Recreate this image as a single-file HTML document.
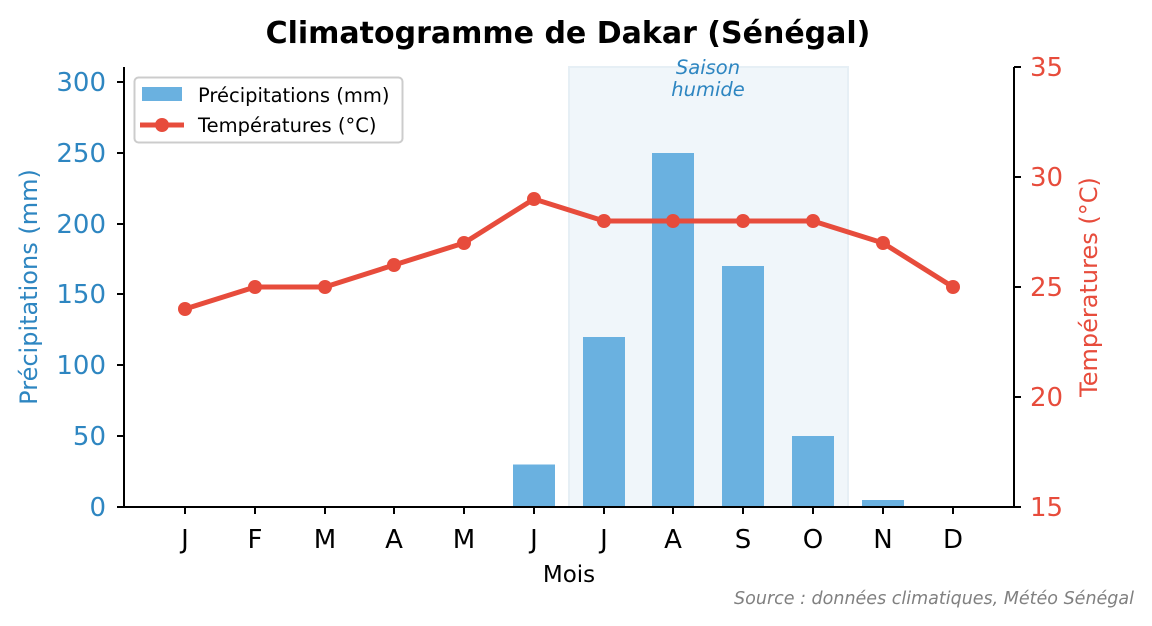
<!DOCTYPE html>
<html><head><meta charset="utf-8"><style>
html,body{margin:0;padding:0;background:#fff;}
svg{display:block;font-family:"DejaVu Sans","Liberation Sans",sans-serif;}
</style></head><body>
<svg width="1152" height="626" viewBox="0 0 1152 626" xmlns="http://www.w3.org/2000/svg">
<rect width="1152" height="626" fill="#fff"/>
<text x="568" y="43" text-anchor="middle" font-size="30" font-weight="bold" fill="#000">Climatogramme de Dakar (Sénégal)</text>
<!-- shaded wet season -->
<rect x="569" y="67" width="279" height="440" fill="#f0f6fa" stroke="#e6eff5" stroke-width="2"/>
<text x="708" y="74" text-anchor="middle" font-size="19.5" font-style="italic" fill="#2e86c1">Saison</text>
<text x="708" y="96" text-anchor="middle" font-size="19.5" font-style="italic" fill="#2e86c1">humide</text>
<!-- bars -->
<g fill="#6ab1e0">
<rect x="513" y="464.5" width="42" height="42.5"/>
<rect x="583" y="337" width="42" height="170"/>
<rect x="652" y="153" width="42" height="354"/>
<rect x="722" y="266" width="42" height="241"/>
<rect x="792" y="436" width="42" height="71"/>
<rect x="862" y="500" width="42" height="7"/>
</g>
<!-- temps -->
<polyline fill="none" stroke="#e74c3c" stroke-width="5" stroke-linejoin="round" points="185,309 255,287 325,287 394,265 464,243 534,199 604,221 673,221 743,221 813,221 883,243 953,287"/>
<g fill="#e74c3c">
<circle cx="185" cy="309" r="7"/><circle cx="255" cy="287" r="7"/><circle cx="325" cy="287" r="7"/><circle cx="394" cy="265" r="7"/><circle cx="464" cy="243" r="7"/><circle cx="534" cy="199" r="7"/><circle cx="604" cy="221" r="7"/><circle cx="673" cy="221" r="7"/><circle cx="743" cy="221" r="7"/><circle cx="813" cy="221" r="7"/><circle cx="883" cy="243" r="7"/><circle cx="953" cy="287" r="7"/>
</g>
<!-- axes -->
<g stroke="#000" stroke-width="2">
<line x1="124" y1="67" x2="124" y2="508"/>
<line x1="123" y1="507" x2="1015" y2="507"/>
<line x1="1014" y1="67" x2="1014" y2="508"/>
<line x1="117" y1="507" x2="124" y2="507"/><line x1="117" y1="436" x2="124" y2="436"/><line x1="117" y1="365" x2="124" y2="365"/><line x1="117" y1="294" x2="124" y2="294"/><line x1="117" y1="224" x2="124" y2="224"/><line x1="117" y1="153" x2="124" y2="153"/><line x1="117" y1="82" x2="124" y2="82"/>
<line x1="1014" y1="507" x2="1021" y2="507"/><line x1="1014" y1="397" x2="1021" y2="397"/><line x1="1014" y1="287" x2="1021" y2="287"/><line x1="1014" y1="177" x2="1021" y2="177"/><line x1="1014" y1="67" x2="1021" y2="67"/>
<line x1="185" y1="507" x2="185" y2="514"/><line x1="255" y1="507" x2="255" y2="514"/><line x1="325" y1="507" x2="325" y2="514"/><line x1="394" y1="507" x2="394" y2="514"/><line x1="464" y1="507" x2="464" y2="514"/><line x1="534" y1="507" x2="534" y2="514"/><line x1="604" y1="507" x2="604" y2="514"/><line x1="673" y1="507" x2="673" y2="514"/><line x1="743" y1="507" x2="743" y2="514"/><line x1="813" y1="507" x2="813" y2="514"/><line x1="883" y1="507" x2="883" y2="514"/><line x1="953" y1="507" x2="953" y2="514"/>
</g>
<g font-size="26" fill="#2e86c1" text-anchor="end">
<text x="106" y="516">0</text><text x="106" y="445">50</text><text x="106" y="374">100</text><text x="106" y="303">150</text><text x="106" y="233">200</text><text x="106" y="162">250</text><text x="106" y="91">300</text>
</g>
<g font-size="26" fill="#e74c3c">
<text x="1030" y="516">15</text><text x="1030" y="406">20</text><text x="1030" y="296">25</text><text x="1030" y="186">30</text><text x="1030" y="76">35</text>
</g>
<g font-size="26" fill="#000" text-anchor="middle">
<text x="185" y="548">J</text><text x="255" y="548">F</text><text x="325" y="548">M</text><text x="394" y="548">A</text><text x="464" y="548">M</text><text x="534" y="548">J</text><text x="604" y="548">J</text><text x="673" y="548">A</text><text x="743" y="548">S</text><text x="813" y="548">O</text><text x="883" y="548">N</text><text x="953" y="548">D</text>
</g>
<text x="569" y="582" text-anchor="middle" font-size="23" fill="#000">Mois</text>
<text transform="translate(37,287) rotate(-90)" text-anchor="middle" font-size="24" fill="#2e86c1">Précipitations (mm)</text>
<text transform="translate(1097,287) rotate(-90)" text-anchor="middle" font-size="24" fill="#e74c3c">Températures (°C)</text>
<!-- legend -->
<rect x="134.5" y="77.5" width="268" height="65" rx="4" fill="#fff" fill-opacity="0.8" stroke="#ccc" stroke-width="2"/>
<rect x="142" y="87" width="40" height="14" fill="#6ab1e0"/>
<text x="198" y="102" font-size="19.5" fill="#000">Précipitations (mm)</text>
<line x1="140" y1="125" x2="184" y2="125" stroke="#e74c3c" stroke-width="5"/>
<circle cx="162" cy="125" r="7" fill="#e74c3c"/>
<text x="198" y="132" font-size="19.5" fill="#000">Températures (°C)</text>
<text x="1134" y="604" text-anchor="end" font-size="17.5" font-style="italic" fill="#808080">Source : données climatiques, Météo Sénégal</text>
</svg>
</body></html>
